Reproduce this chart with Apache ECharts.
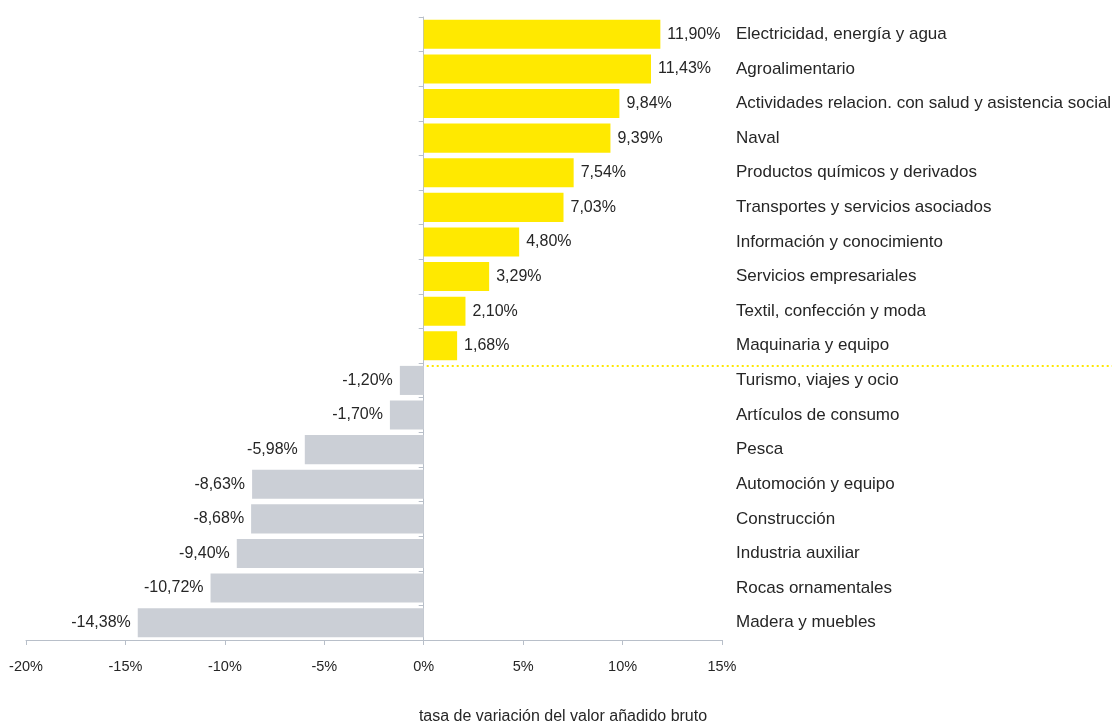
<!DOCTYPE html>
<html>
<head>
<meta charset="utf-8">
<script src="https://cdn.jsdelivr.net/npm/echarts@6/dist/echarts.min.js"></script>
<style>html,body{margin:0;padding:0;background:#fff}#c{width:1112px;height:722px}</style>
</head>
<body>
<div id="c"></div>
<script>
const categories = [
  'Electricidad, energía y agua',
  'Agroalimentario',
  'Actividades relacion. con salud y asistencia social',
  'Naval',
  'Productos químicos y derivados',
  'Transportes y servicios asociados',
  'Información y conocimiento',
  'Servicios empresariales',
  'Textil, confección y moda',
  'Maquinaria y equipo',
  'Turismo, viajes y ocio',
  'Artículos de consumo',
  'Pesca',
  'Automoción y equipo',
  'Construcción',
  'Industria auxiliar',
  'Rocas ornamentales',
  'Madera y muebles'
];
const values = [11.90, 11.43, 9.84, 9.39, 7.54, 7.03, 4.80, 3.29, 2.10, 1.68,
  -1.20, -1.70, -5.98, -8.63, -8.68, -9.40, -10.72, -14.38];
const xTicks = { min: -20, max: 15, interval: 5 };
const axisTitle = 'tasa de variación del valor añadido bruto';

const YELLOW = '#FFE900';
const GRAY = '#CBCFD6';
const AXIS = '#B8BFC9';
const TEXT = '#262626';
const FONT = '"Liberation Sans", Arial, sans-serif';

const fmt = v => v.toFixed(2).replace('.', ',') + '%';

const chart = echarts.init(document.getElementById('c'));
chart.setOption({
  animation: false,
  backgroundColor: '#fff',
  textStyle: { fontFamily: FONT },
  title: {
    text: axisTitle,
    left: 563, top: 709, textAlign: 'center', padding: 0,
    textStyle: { fontSize: 16, fontWeight: 'normal', color: TEXT, fontFamily: FONT }
  },
  grid: { left: 26, right: 390, top: 17, bottom: 82, containLabel: false, outerBoundsMode: 'none' },
  xAxis: {
    type: 'value', min: xTicks.min, max: xTicks.max, interval: xTicks.interval,
    axisLine: { show: true, lineStyle: { color: AXIS, width: 1 } },
    axisTick: { show: true, length: 5, lineStyle: { color: AXIS } },
    splitLine: { show: false },
    axisLabel: { formatter: v => v + '%', fontSize: 14.5, color: TEXT, margin: 19, fontFamily: FONT }
  },
  yAxis: [{
    type: 'category', data: categories, inverse: true,
    axisLine: { show: true, onZero: true, lineStyle: { color: AXIS, width: 1 } },
    axisTick: { show: true, length: 5, lineStyle: { color: AXIS } },
    axisLabel: { show: false }
  }, {
    type: 'category', data: categories, inverse: true, position: 'right',
    axisLine: { show: false }, axisTick: { show: false },
    axisLabel: { show: true, fontSize: 17, color: TEXT, margin: 14, fontFamily: FONT }
  }],
  series: [{
    type: 'bar', yAxisIndex: 0, barCategoryGap: '16%',
    data: values.map(v => ({
      value: v,
      itemStyle: { color: v >= 0 ? YELLOW : GRAY },
      label: { show: true, position: v >= 0 ? 'right' : 'left', distance: 7,
        formatter: () => fmt(v), fontSize: 16, color: TEXT, fontFamily: FONT }
    }))
  }]
});

// dotted separator between positive and negative groups
const lastPos = values.filter(v => v >= 0).length - 1;
const y1 = chart.convertToPixel({ yAxisIndex: 0 }, lastPos);
const y2 = chart.convertToPixel({ yAxisIndex: 0 }, lastPos + 1);
const yMid = Math.round((y1 + y2) / 2) + 3;
const x0 = chart.convertToPixel({ xAxisIndex: 0 }, 0);
chart.setOption({
  graphic: [{
    type: 'line', silent: true,
    shape: { x1: x0 + 3, y1: yMid, x2: chart.getWidth(), y2: yMid },
    style: { stroke: YELLOW, lineWidth: 2, lineDash: [2, 3] }
  }]
});
</script>
</body>
</html>
